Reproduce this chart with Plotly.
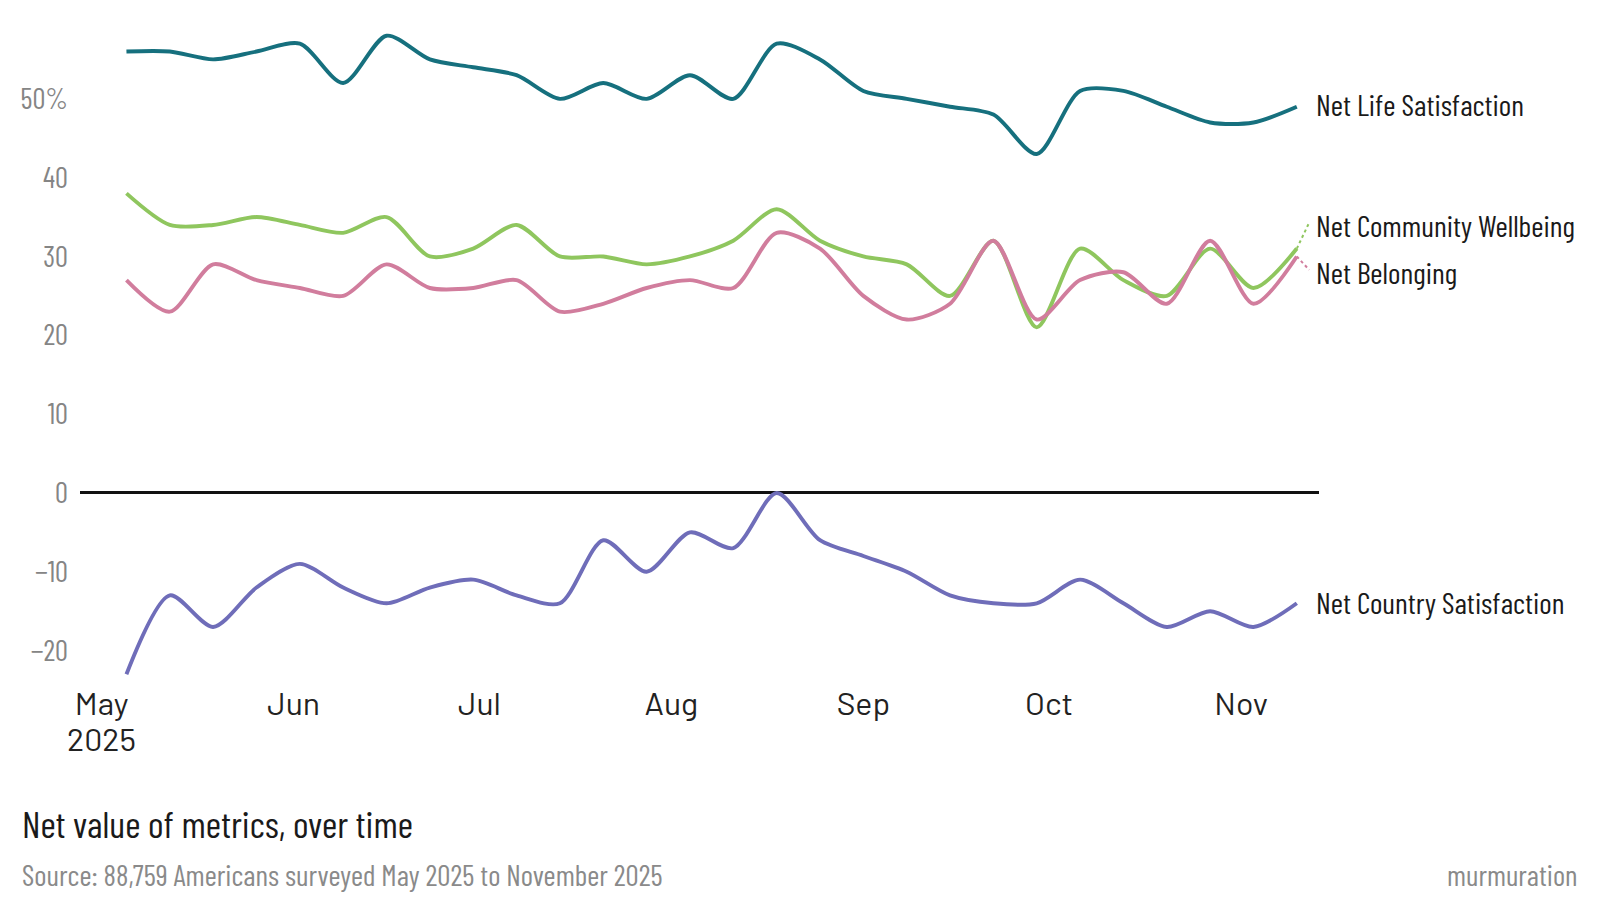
import pandas as pd
import plotly.graph_objects as go

# ---- data ----
dates = pd.date_range("2025-05-05", periods=28, freq="7D")

life_satisfaction = [56, 56, 55, 56, 57, 52, 58, 55, 54, 53, 50, 52, 50, 53,
                     50, 57, 55, 51, 50, 49, 48, 43, 51, 51, 49, 47, 47, 49]
community_wellbeing = [38, 34, 34, 35, 34, 33, 35, 30, 31, 34, 30, 30, 29, 30,
                       32, 36, 32, 30, 29, 25, 32, 21, 31, 27, 25, 31, 26, 31]
belonging = [27, 23, 29, 27, 26, 25, 29, 26, 26, 27, 23, 24, 26, 27,
             26, 33, 31, 25, 22, 24, 32, 22, 27, 28, 24, 32, 24, 30]
country_satisfaction = [-23, -13, -17, -12, -9, -12, -14, -12, -11, -13, -14, -6, -10, -5,
                        -7, 0, -6, -8, -10, -13, -14, -14, -11, -14, -17, -15, -17, -14]

series_names = ["Net Life Satisfaction", "Net Community Wellbeing",
                "Net Belonging", "Net Country Satisfaction"]
series_values = [life_satisfaction, community_wellbeing, belonging, country_satisfaction]
series_colors = ["#16707e", "#8fc65e", "#d17d9d", "#6f6db9"]
label_values = [49.4, 34, 28, -13.8]   # where the end labels sit

y_tickvals = [-20, -10, 0, 10, 20, 30, 40, 50]
y_ticktext = ["\u221220", "\u221210", "0", "10", "20", "30", "40", "50%"]
x_tickvals = ["2025-05-01", "2025-06-01", "2025-07-01", "2025-08-01",
              "2025-09-01", "2025-10-01", "2025-11-01"]
x_ticktext = ["May", "Jun", "Jul", "Aug", "Sep", "Oct", "Nov"]
year_label = "2025"

COND = "Barlow Condensed, Liberation Sans Narrow, DejaVu Sans Condensed, sans-serif"
REG = "Barlow, Roboto, sans-serif"

fig = go.Figure()
for name, vals, col in zip(series_names, series_values, series_colors):
    fig.add_trace(go.Scatter(
        x=dates, y=vals, mode="lines", name=name,
        line=dict(color=col, width=3.9, shape="spline", smoothing=0.8),
        hoverinfo="skip",
    ))

last = dates[-1]
for name, vals, col, ly in zip(series_names, series_values, series_colors, label_values):
    fig.add_annotation(
        x=last, y=ly, xref="x", yref="y", text=name, showarrow=False,
        xanchor="left", yanchor="middle", xshift=17,
        font=dict(family=COND, size=30, color="#1a1a1a"),
    )
    if abs(ly - vals[-1]) > 1:
        fig.add_shape(
            type="line", xref="x", yref="y",
            x0=last, y0=vals[-1],
            x1=last + pd.Timedelta(days=2), y1=ly + 0.3,
            line=dict(color=col, width=2, dash="dot"),
        )

# year under the first month tick
fig.add_annotation(
    x=x_tickvals[0], y=0, xref="x", yref="paper", text=year_label, showarrow=False,
    xanchor="center", yanchor="middle", yshift=-48,
    font=dict(family=REG, size=32, color="#222222"),
)

fig.add_annotation(
    x=0, y=0, xref="paper", yref="paper", xshift=-60, yshift=-133,
    text="Net value of metrics, over time", showarrow=False,
    xanchor="left", yanchor="middle",
    font=dict(family=COND, size=37.5, color="#1a1a1a"),
)
fig.add_annotation(
    x=0, y=0, xref="paper", yref="paper", xshift=-60, yshift=-184,
    text="Source: 88,759 Americans surveyed May 2025 to November 2025", showarrow=False,
    xanchor="left", yanchor="middle",
    font=dict(family=COND, size=29.5, color="#8a8a8a"),
)
fig.add_annotation(
    x=1, y=0, xref="paper", yref="paper", xshift=260, yshift=-184,
    text="murmuration", showarrow=False,
    xanchor="right", yanchor="middle",
    font=dict(family=COND, size=29.3, color="#8a8a8a"),
)

# page body has an 8px margin, so the figure is 8px smaller and margins shifted
fig.update_layout(
    width=1592, height=907,
    margin=dict(l=72, r=281, t=12, b=225),
    paper_bgcolor="white", plot_bgcolor="white",
    showlegend=False,
    xaxis=dict(
        range=["2025-04-27 12:00", "2025-11-13 14:00"],
        tickvals=x_tickvals, ticktext=x_ticktext,
        showgrid=False, zeroline=False, showline=False, ticks="",
        automargin=False, ticklabelstandoff=-8,
        tickfont=dict(family=REG, size=32, color="#222222"),
    ),
    yaxis=dict(
        range=[-25, 60],
        tickvals=y_tickvals, ticktext=y_ticktext,
        showgrid=False, showline=False, ticks="",
        zeroline=True, zerolinecolor="#111111", zerolinewidth=3,
        ticklabelstandoff=11, automargin=False,
        tickfont=dict(family=COND, size=29, color="#858585"),
    ),
)

fig.write_html("out.html")
